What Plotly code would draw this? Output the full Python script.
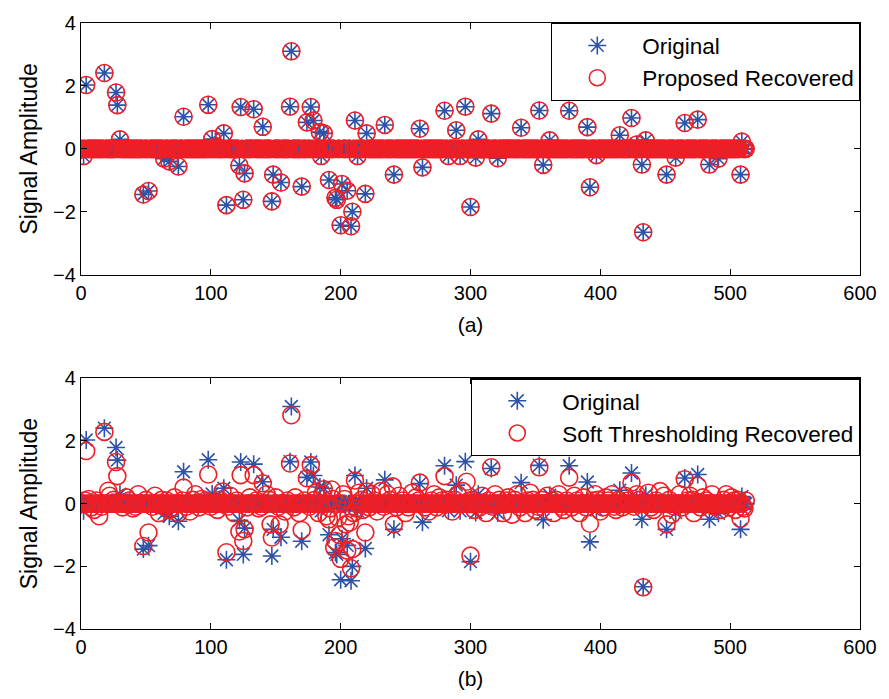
import numpy as np
import plotly.graph_objects as go

N = 512

# Original sparse signal: (index, amplitude) of the nonzero entries
orig_idx = [2, 4, 18, 27, 28, 30, 48, 52, 64, 68, 75, 79, 98, 101, 104, 110, 112,
            122, 123, 125, 126, 133, 140, 147, 148, 154, 161, 162, 170, 174, 177,
            179, 184, 185, 187, 191, 196, 197, 200, 201, 205, 208, 209, 211, 213,
            219, 220, 234, 241, 261, 263, 280, 283, 289, 292, 296, 300, 304, 306,
            316, 321, 339, 353, 356, 361, 376, 390, 392, 397, 415, 424, 428, 432,
            433, 435, 451, 458, 465, 475, 484, 491, 508, 509]
orig_val = [-0.23, 2.03, 2.41, 1.79, 1.39, 0.30, -1.45, -1.34, -0.31, -0.40, -0.56,
            1.02, 1.40, 0.31, 0.08, 0.49, -1.79, -0.53, 1.33, -1.62, -0.78, 1.26,
            0.70, -1.67, -0.82, -1.07, 1.34, 3.10, -1.20, 0.84, 1.33, 0.90, 0.53,
            -0.23, 0.49, -0.99, -1.56, -1.62, -2.43, -1.12, -1.33, -2.46, -2.00,
            0.90, -0.23, -1.43, 0.49, 0.76, -0.82, 0.64, -0.59, 1.21, -0.23, 0.59,
            -0.23, 1.34, -1.85, -0.28, 0.30, 1.12, -0.30, 0.67, 1.22, -0.51, 0.27,
            1.21, 0.69, -1.22, -0.20, 0.43, 0.98, 0.14, -0.50, -2.65, 0.27, -0.82,
            -0.28, 0.82, 0.93, -0.50, -0.31, -0.82, 0.23]

# Proposed method recovers the original exactly
prop_idx = list(orig_idx)
prop_val = list(orig_val)

# Soft thresholding recovery: visible shrunk spikes
soft_idx = [4, 14, 18, 21, 27, 28, 48, 52, 79, 98, 109, 112, 122, 123, 125, 126,
            133, 140, 146, 147, 153, 161, 162, 170, 174, 177, 187, 191, 195, 196,
            199, 200, 204, 205, 206, 208, 209, 211, 219, 220, 240, 241, 261, 280,
            297, 300, 316, 353, 376, 392, 424, 433, 451, 465, 475, 508]
soft_val = [1.68, -0.40, 2.29, 0.41, 1.33, 0.88, -1.35, -0.92, 0.51, 0.93, 0.39,
            -1.55, -0.89, 0.91, -1.19, -0.82, 0.91, 0.65, -0.66, -1.08, -0.66,
            1.28, 2.82, -0.84, 0.81, 1.23, 0.46, -0.50, -1.40, -1.19, -1.00, -1.76,
            -0.66, -1.50, -0.40, -2.06, -1.45, 0.74, -0.92, 0.39, 0.55, -0.66,
            0.67, 0.88, 0.70, -1.66, 1.16, 1.16, 0.83, -0.64, 0.67, -2.67, -0.66,
            0.78, 0.57, -0.48]

# Soft thresholding recovery: residual values around zero (larger ones)
noise_idx = [6, 10, 22, 35, 40, 44, 57, 60, 64, 68, 72, 75, 84, 88, 93, 105, 115,
             118, 130, 137, 143, 150, 157, 165, 168, 181, 183, 186, 189, 193, 198,
             202, 207, 210, 214, 217, 224, 228, 231, 236, 245, 250, 255, 258, 268,
             272, 276, 286, 290, 294, 303, 309, 312, 319, 325, 329, 332, 336, 342,
             346, 350, 359, 364, 368, 372, 380, 384, 387, 396, 400, 404, 409, 412,
             419, 428, 437, 441, 446, 449, 455, 461, 469, 472, 479, 486, 493, 497,
             501, 504, 511, 512]
noise_val = [0.15, -0.20, 0.25, 0.20, -0.15, 0.30, 0.25, -0.30, -0.10, -0.20, 0.20,
             -0.30, -0.25, 0.30, 0.15, -0.20, 0.25, -0.30, 0.20, -0.15, 0.30, 0.20,
             -0.25, 0.20, -0.30, 0.35, -0.30, 0.30, -0.40, 0.45, -0.45, 0.30, -0.60,
             -0.30, 0.35, -0.20, 0.30, -0.25, 0.40, 0.30, 0.25, -0.30, 0.35, 0.20,
             -0.25, 0.30, 0.20, -0.25, 0.30, 0.40, -0.20, 0.25, -0.30, 0.30, -0.30,
             0.20, -0.35, 0.30, -0.30, 0.35, -0.20, 0.25, -0.30, 0.30, -0.20, 0.25,
             -0.30, 0.20, 0.30, -0.25, 0.20, 0.30, -0.20, 0.25, 0.30, 0.35, -0.20,
             0.40, 0.25, -0.35, 0.30, 0.25, -0.30, 0.20, 0.30, -0.20, 0.30, 0.20,
             -0.20, -0.15, 0.10]

# Soft thresholding recovery: small residual values around zero
small_idx = [3, 8, 12, 16, 25, 32, 37, 42, 50, 55, 62, 66, 70, 78, 81, 86, 91, 96,
             100, 107, 113, 120, 128, 135, 139, 145, 152, 159, 164, 172, 176, 180,
             192, 194, 203, 212, 216, 222, 226, 233, 238, 243, 248, 252, 260, 265,
             270, 274, 278, 282, 288, 299, 302, 307, 314, 317, 322, 327, 334, 338,
             344, 348, 352, 355, 363, 366, 370, 374, 378, 382, 389, 394, 398, 402,
             406, 411, 414, 417, 421, 426, 430, 439, 443, 453, 457, 463, 467, 471,
             477, 482, 488, 495, 499, 503, 506, 510]
small_val = [0.10, -0.12, 0.10, -0.10, 0.12, -0.12, 0.10, -0.10, 0.12, -0.10, 0.12,
             0.10, -0.12, 0.10, -0.10, 0.12, -0.12, 0.10, -0.10, 0.12, -0.10, 0.10,
             -0.12, 0.10, -0.10, 0.12, -0.10, 0.10, -0.12, 0.10, -0.10, 0.12, -0.15,
             0.15, 0.15, -0.15, 0.12, -0.12, 0.10, -0.10, 0.12, -0.12, 0.10, -0.12,
             0.10, -0.12, 0.10, -0.12, 0.10, 0.12, 0.12, 0.10, 0.12, -0.12, 0.10,
             -0.10, 0.12, 0.10, 0.12, -0.12, 0.10, 0.12, -0.10, 0.12, 0.10, 0.12,
             -0.10, 0.10, -0.12, 0.10, -0.12, 0.10, 0.12, -0.12, 0.10, -0.10, 0.12,
             -0.12, 0.10, -0.10, 0.12, -0.12, 0.10, 0.12, -0.10, -0.12, 0.10, 0.12,
             -0.12, 0.10, -0.10, 0.12, -0.12, 0.10, 0.12, -0.10]

x_ticks = [0, 100, 200, 300, 400, 500, 600]
y_ticks = [-4, -2, 0, 2, 4]

n = np.arange(1, N + 1)

def build(idx, val):
    s = np.zeros(N)
    for i, v in zip(idx, val):
        s[i - 1] = v
    return s

original = build(orig_idx, orig_val)
proposed = build(prop_idx, prop_val)
soft = build(small_idx + noise_idx + soft_idx, small_val + noise_val + soft_val)

BLUE = "#2D52A6"
RED = "#EE1F26"
FONT = "Liberation Sans, Arial, sans-serif"

star = dict(symbol="asterisk-open", size=15, line=dict(color=BLUE, width=1.6), color=BLUE)
circ = dict(symbol="circle-open", size=17, line=dict(color=RED, width=1.6), color=RED)

fig = go.Figure()
fig.add_trace(go.Scatter(x=n, y=original, mode="markers", marker=star, name="Original",
                         xaxis="x", yaxis="y", legend="legend"))
fig.add_trace(go.Scatter(x=n, y=proposed, mode="markers", marker=circ,
                         name="Proposed Recovered", xaxis="x", yaxis="y", legend="legend"))
fig.add_trace(go.Scatter(x=n, y=original, mode="markers", marker=star, name="Original",
                         xaxis="x2", yaxis="y2", legend="legend2"))
fig.add_trace(go.Scatter(x=n, y=soft, mode="markers", marker=circ,
                         name="Soft Thresholding Recovered", xaxis="x2", yaxis="y2",
                         legend="legend2"))

axcommon = dict(showgrid=False, zeroline=False, showline=True, linecolor="black",
                linewidth=1.3, mirror="ticks", ticks="inside", ticklen=6,
                tickcolor="black", tickwidth=1.2,
                tickfont=dict(family=FONT, size=20, color="black"))

top_lo = 359 / 614
bot_hi = 254 / 614

fig.update_layout(
    width=889, height=699,
    margin=dict(l=81, r=25, t=17, b=68),
    plot_bgcolor="white", paper_bgcolor="white",
    font=dict(family=FONT, size=20, color="black"),
    xaxis=dict(range=[0, 600], tickvals=x_ticks, domain=[0, 1], anchor="y",
               title=dict(text="(a)", standoff=14, font=dict(size=21)), **axcommon),
    yaxis=dict(range=[-4, 4], tickvals=y_ticks, domain=[top_lo, 1], anchor="x",
               title=dict(text="Signal Amplitude", standoff=8, font=dict(size=23)),
               **axcommon),
    xaxis2=dict(range=[0, 600], tickvals=x_ticks, domain=[0, 1], anchor="y2",
                title=dict(text="(b)", standoff=14, font=dict(size=21)), **axcommon),
    yaxis2=dict(range=[-4, 4], tickvals=y_ticks, domain=[0, bot_hi], anchor="x2",
                title=dict(text="Signal Amplitude", standoff=8, font=dict(size=23)),
                **axcommon),
    legend=dict(x=1, y=1, xanchor="right", yanchor="top", bgcolor="white",
                bordercolor="black", borderwidth=1.3, itemwidth=80,
                font=dict(family=FONT, size=22.5)),
    legend2=dict(x=1, y=bot_hi, xanchor="right", yanchor="top", bgcolor="white",
                 bordercolor="black", borderwidth=1.3, itemwidth=80,
                 font=dict(family=FONT, size=22.5)),
)

fig.write_html("out.html")
